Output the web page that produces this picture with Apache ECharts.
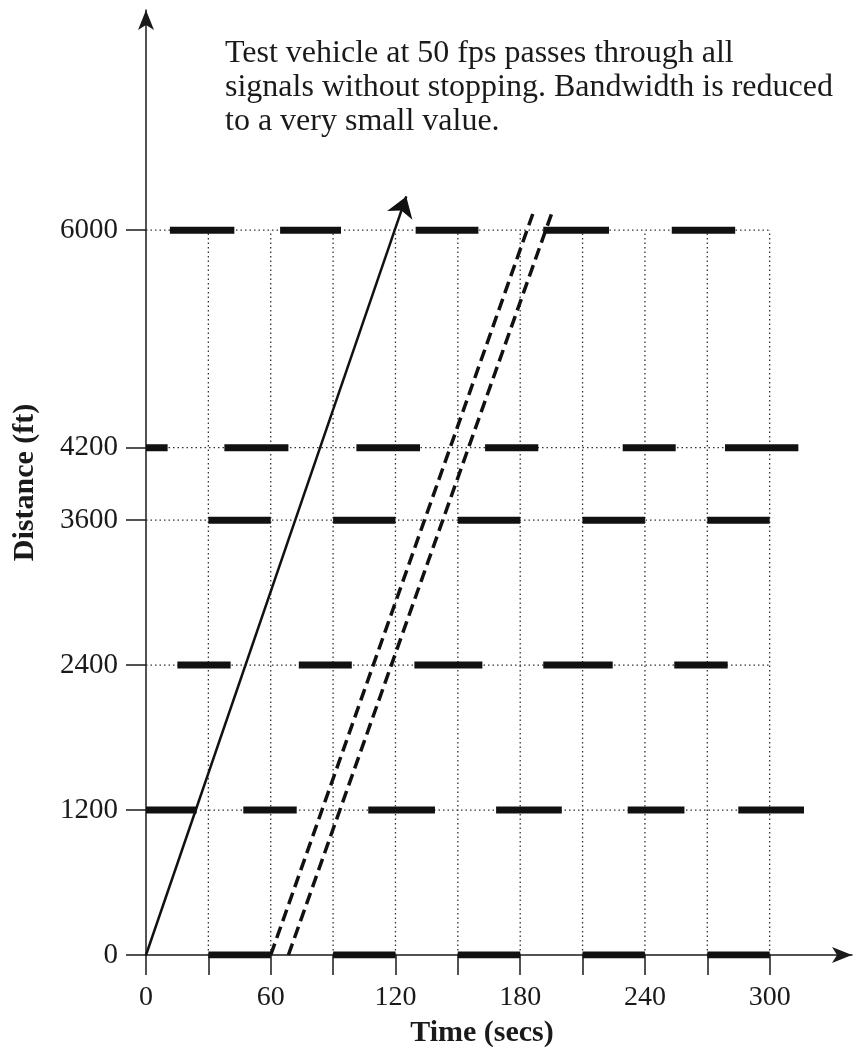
<!DOCTYPE html>
<html>
<head>
<meta charset="utf-8">
<script src="https://cdn.jsdelivr.net/npm/echarts@6/dist/echarts.min.js"></script>
<style>
html,body{margin:0;padding:0;background:#fff;}
#c{width:856px;height:1060px;}
</style>
</head>
<body>
<div id="c"></div>
<script>
// ---- data ----
var xTickValues = [0, 30, 60, 90, 120, 150, 180, 210, 240, 270, 300];
var xLabelValues = [0, 60, 120, 180, 240, 300];
var signalDistances = [0, 1200, 2400, 3600, 4200, 6000];
var gridTimes = [30, 60, 90, 120, 150, 180, 210, 240, 270, 300];
var gridDistances = [1200, 2400, 3600, 4200, 6000];
var gridEndTime = 300;
var gridEndDistance = 6000;

// red (stop) intervals, seconds, per signal
var red0    = [[30, 60], [90, 120], [150, 180], [210, 240], [270, 300]];
var red1200 = [[0, 24.4], [46.8, 72.5], [106.9, 139.0], [168.4, 200.0], [231.7, 259.0], [284.9, 316.5]];
var red2400 = [[15.1, 40.7], [73.5, 99.0], [129.1, 161.8], [191.1, 224.5], [254.1, 279.8]];
var red3600 = [[30, 60], [90, 120], [150, 180], [210, 240], [270, 300]];
var red4200 = [[0, 10.4], [37.7, 68.5], [101.2, 131.8], [163.1, 188.7], [229.3, 254.8], [278.5, 313.8]];
var red6000 = [[11.5, 42.5], [64.5, 93.8], [129.7, 159.9], [191.1, 222.7], [252.9, 283.4]];
var redByDistance = [red0, red1200, red2400, red3600, red4200, red6000];

// trajectories [time, distance]
var testVehicle = [[0, 0], [125.2, 6280]];
var bandEdgeA = [[60, 0], [186.2, 6142]];
var bandEdgeB = [[68.5, 0], [195.2, 6142]];

var noteText = 'Test vehicle at 50 fps passes through all\nsignals without stopping. Bandwidth is reduced\nto a very small value.';

// ---- build ----
function segs(list) {
  var out = [];
  list.forEach(function (s, i) {
    if (i) out.push('-');
    out.push(s[0]); out.push(s[1]);
  });
  return out;
}
var vGrid = segs(gridTimes.map(function (t) { return [[t, 0], [t, gridEndDistance]]; }));
var hGrid = segs(gridDistances.map(function (d) { return [[0, d], [gridEndTime, d]]; }));
var redSegs = [];
signalDistances.forEach(function (d, k) {
  redByDistance[k].forEach(function (r) { redSegs.push([[r[0], d], [r[1], d]]); });
});
var redData = segs(redSegs);

var FONT = 'Liberation Serif';
var INK = '#1a1a1a';

var chart = echarts.init(document.getElementById('c'), null, {renderer: 'canvas'});
chart.setOption({
  animation: false,
  backgroundColor: '#ffffff',
  title: {
    text: noteText,
    left: 220, top: 32,
    textStyle: {fontFamily: FONT, fontSize: 32, fontWeight: 'normal', color: INK, lineHeight: 34}
  },
  grid: {left: 146, right: 4, top: 10, bottom: 105},
  xAxis: {
    type: 'value', min: 0, max: 339.6,
    name: 'Time (secs)', nameLocation: 'middle', nameGap: 63,
    nameTextStyle: {fontFamily: FONT, fontSize: 30, fontWeight: 'bold', color: INK, padding: [0, 34, 0, 0]},
    axisLine: {show: true, symbol: ['none', 'arrow'], symbolSize: [12, 20], lineStyle: {color: INK, width: 1.5}},
    axisTick: {show: true, length: 20, customValues: xTickValues, lineStyle: {color: INK, width: 1.5}},
    axisLabel: {customValues: xLabelValues, margin: 29, fontFamily: FONT, fontSize: 28, color: INK,
                formatter: function (v) { return String(v); }},
    splitLine: {show: false}
  },
  yAxis: {
    type: 'value', min: 0, max: 7823,
    name: 'Distance (ft)', nameLocation: 'middle', nameGap: 106, nameRotate: 90,
    nameTextStyle: {fontFamily: FONT, fontSize: 30, fontWeight: 'bold', color: INK},
    axisLine: {show: true, symbol: ['none', 'arrow'], symbolSize: [12, 20], lineStyle: {color: INK, width: 1.5}},
    axisTick: {show: true, length: 20, customValues: signalDistances, lineStyle: {color: INK, width: 1.5}},
    axisLabel: {customValues: signalDistances, margin: 28, fontFamily: FONT, fontSize: 29, color: INK,
                formatter: function (v) { return String(v); }},
    splitLine: {show: false}
  },
  series: [
    {type: 'line', data: vGrid, symbol: 'none', silent: true, connectNulls: false,
     lineStyle: {color: '#333', width: 1.3, type: [1.5, 3]}, z: 1},
    {type: 'line', data: hGrid, symbol: 'none', silent: true, connectNulls: false,
     lineStyle: {color: '#333', width: 1.3, type: [1.5, 3]}, z: 1},
    {type: 'line', data: redData, symbol: 'none', silent: true, connectNulls: false,
     lineStyle: {color: '#111', width: 7, cap: 'butt'}, z: 3},
    {type: 'line', data: bandEdgeA, symbol: 'none', silent: true,
     lineStyle: {color: '#111', width: 3.5, type: [12, 6], cap: 'butt'}, z: 4},
    {type: 'line', data: bandEdgeB, symbol: 'none', silent: true,
     lineStyle: {color: '#111', width: 3.5, type: [12, 6], cap: 'butt'}, z: 4},
    {type: 'lines', coordinateSystem: 'cartesian2d', silent: true,
     symbol: ['none', 'arrow'], symbolSize: [11, 20],
     lineStyle: {color: '#111', width: 2.5, opacity: 1, curveness: 0},
     data: [{coords: testVehicle}], z: 5}
  ]
});
</script>
</body>
</html>
